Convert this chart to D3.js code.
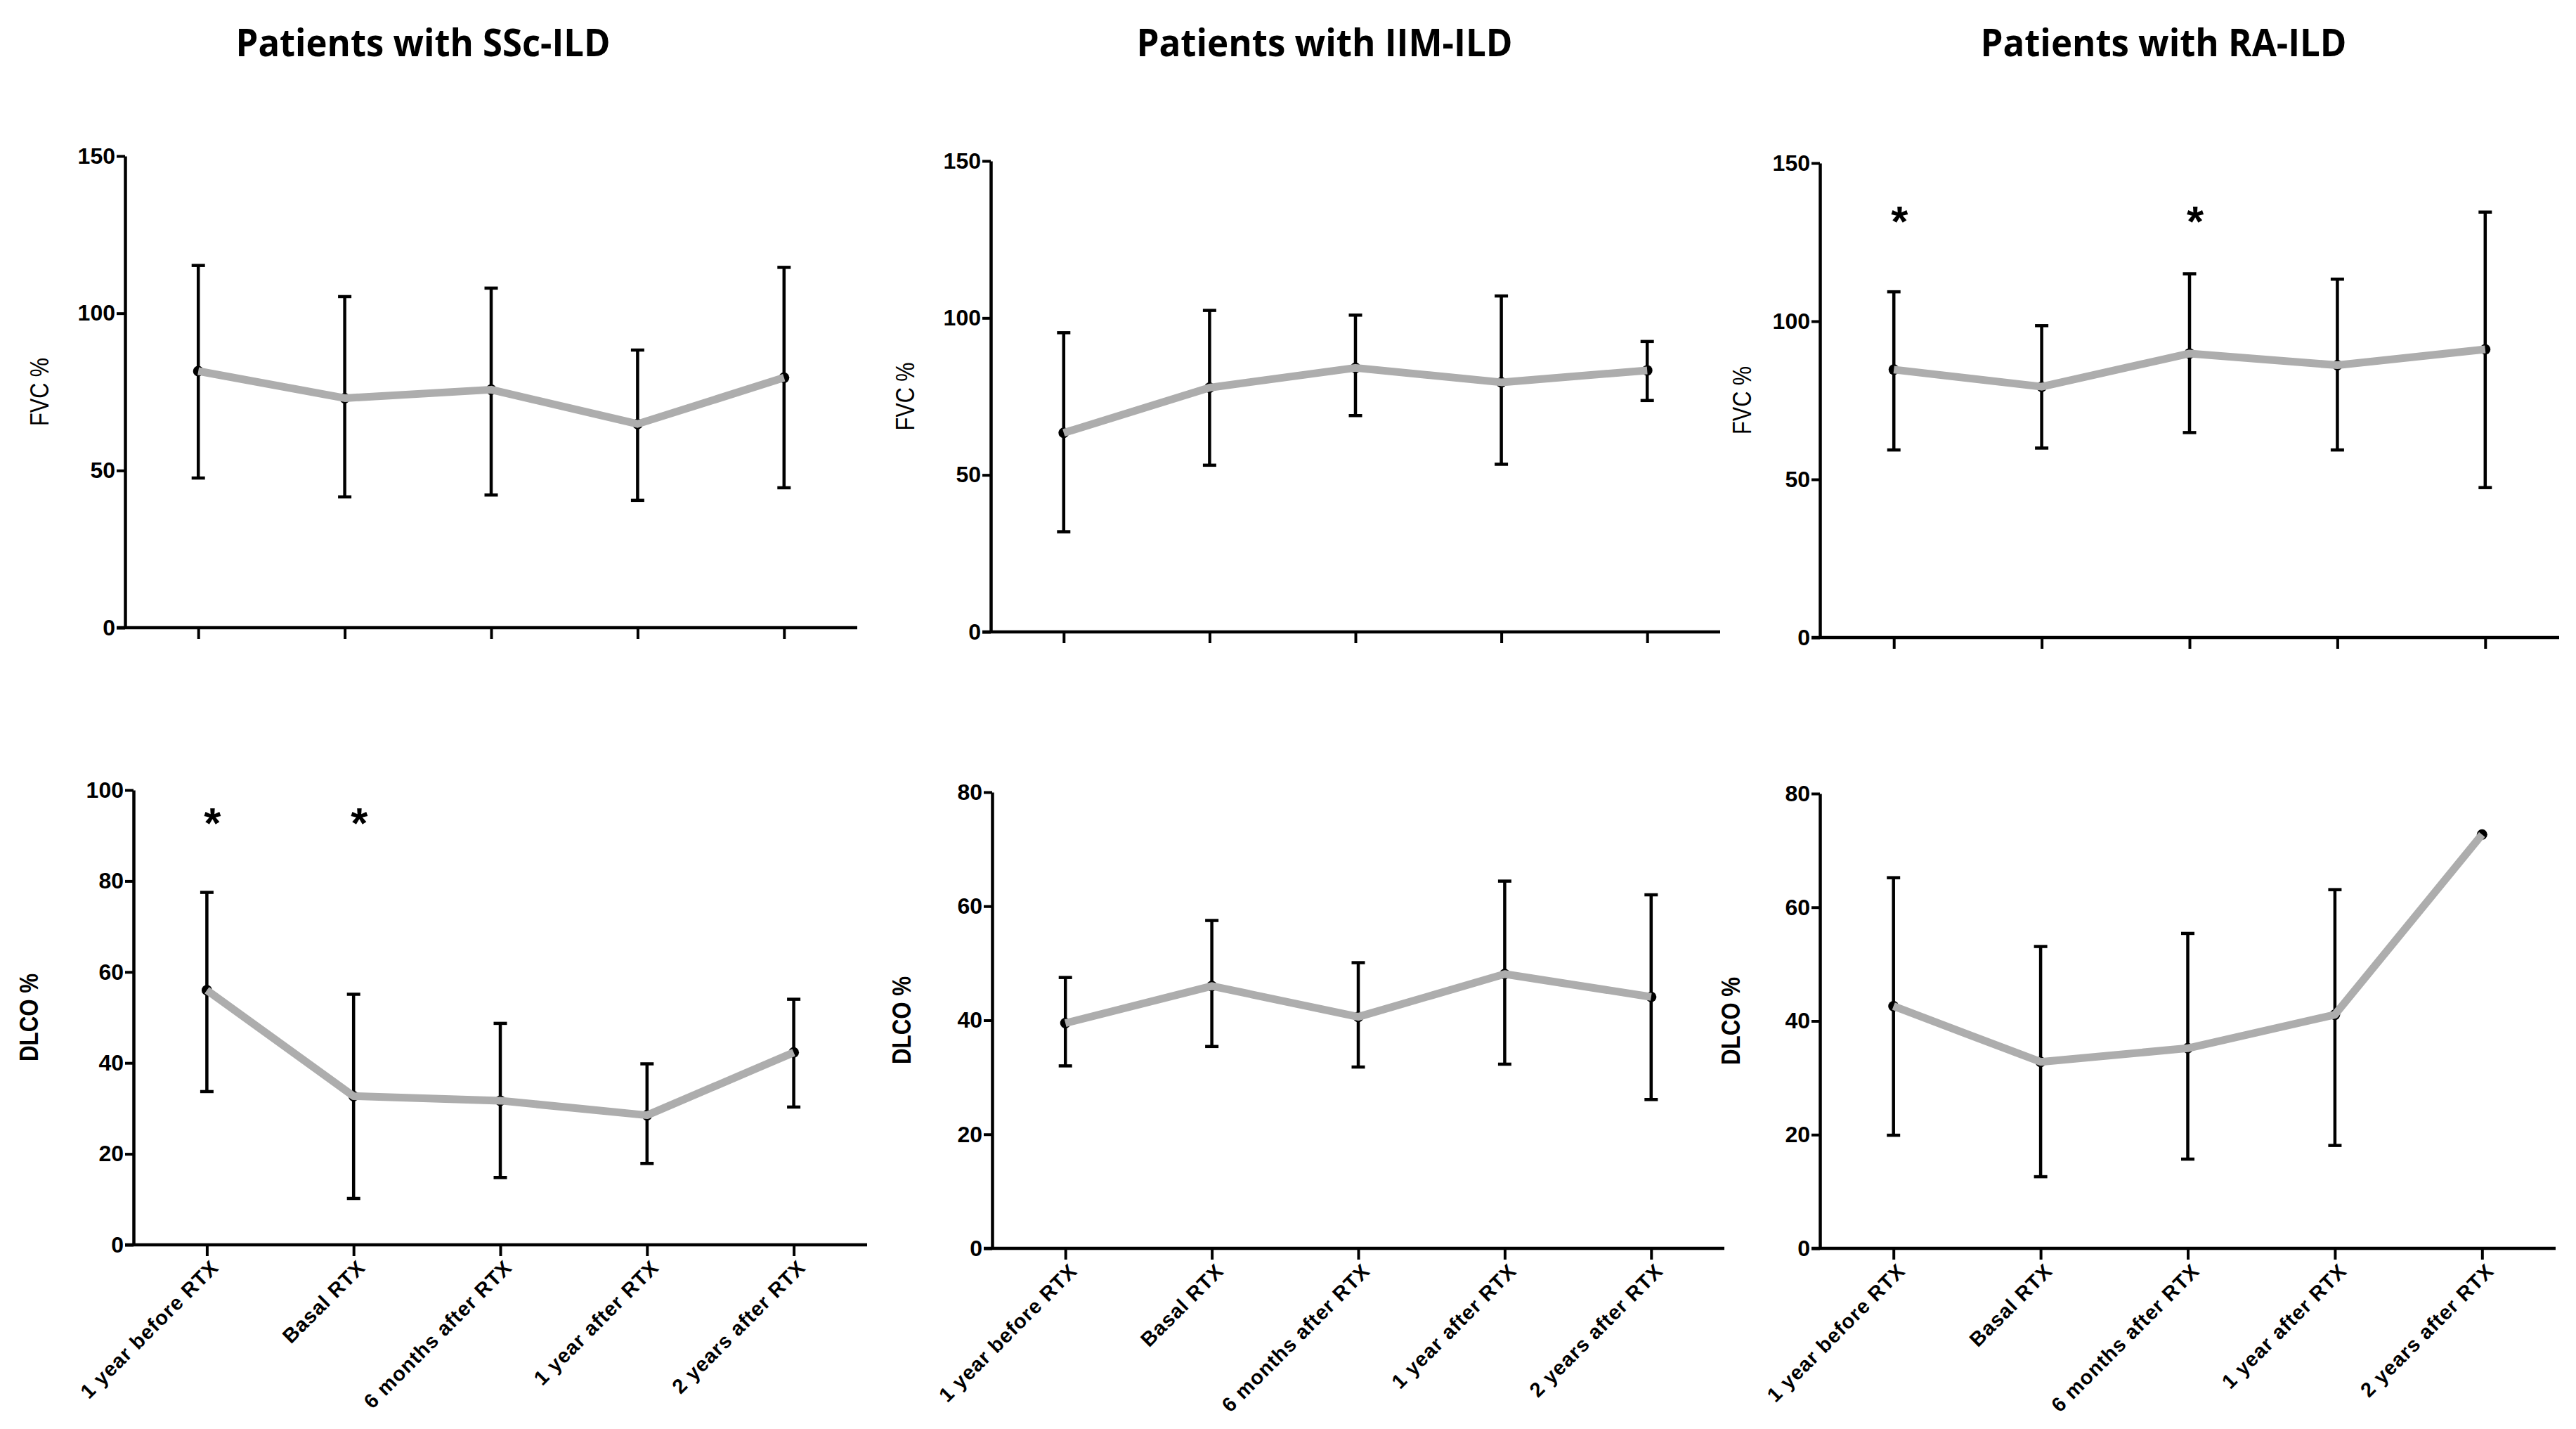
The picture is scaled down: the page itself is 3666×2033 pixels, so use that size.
<!DOCTYPE html>
<html>
<head>
<meta charset="utf-8">
<script src="https://cdn.jsdelivr.net/npm/d3@7"></script>
<style>
  body { margin: 0; background: #fff; }
  svg { display: block; }
</style>
</head>
<body>
<div id="chart"></div>
<script>
// time points shared by every panel
var categories = ['1 year before RTX', 'Basal RTX', '6 months after RTX', '1 year after RTX', '2 years after RTX'];
var groups = ['Patients with SSc-ILD', 'Patients with IIM-ILD', 'Patients with RA-ILD'];

// FVC %, mean with error bar ends
var sscFvcMean = [81.6, 73.0, 75.7, 64.8, 79.5],
  sscFvcHi = [115.2, 105.3, 108.0, 88.3, 114.6],
  sscFvcLo = [47.6, 41.6, 42.2, 40.5, 44.5];
var iimFvcMean = [63.4, 77.8, 84.1, 79.5, 83.3],
  iimFvcHi = [95.3, 102.4, 100.9, 107.0, 92.5],
  iimFvcLo = [31.9, 53.1, 68.9, 53.4, 73.7];
var raFvcMean = [84.7, 79.3, 89.8, 86.1, 91.1],
  raFvcHi = [109.3, 98.6, 115.0, 113.3, 134.5],
  raFvcLo = [59.3, 59.9, 64.8, 59.3, 47.4];

// DLCO %
var sscDlcoMean = [56.0, 32.7, 31.7, 28.5, 42.3],
  sscDlcoHi = [77.5, 55.1, 48.7, 39.8, 54.0],
  sscDlcoLo = [33.7, 10.2, 14.8, 17.9, 30.3];
var iimDlcoMean = [39.5, 46.0, 40.6, 48.1, 44.1],
  iimDlcoHi = [47.5, 57.5, 50.1, 64.4, 62.0],
  iimDlcoLo = [32.0, 35.4, 31.8, 32.3, 26.1];
var raDlcoMean = [42.6, 32.8, 35.2, 41.1, 72.8],
  raDlcoHi = [65.2, 53.1, 55.4, 63.1, null],
  raDlcoLo = [19.9, 12.6, 15.7, 18.1, null];

// significance marks: index of time point and height
var sscDlcoStars = [0, 1], sscDlcoStarAt = 95;
var raFvcStars = [0, 2], raFvcStarAt = 135;

var fvcTicks = [0, 50, 100, 150];
var sscDlcoTicks = [0, 20, 40, 60, 80, 100];
var dlcoTicks = [0, 20, 40, 60, 80];

var width = 3666, height = 2033,
  grey = '#adadad',
  narrow = '"Liberation Sans Narrow", "Arial Narrow", "Liberation Sans", sans-serif';

var panels = [
  {mean: sscFvcMean, hi: sscFvcHi, lo: sscFvcLo, ticks: fvcTicks, label: 'FVC %', bold: false,
    left: 178, right: 1220, top: 222, bottom: 893, lx: 56, stars: [], names: false},
  {mean: iimFvcMean, hi: iimFvcHi, lo: iimFvcLo, ticks: fvcTicks, label: 'FVC %', bold: false,
    left: 1410, right: 2448, top: 229, bottom: 899, lx: 1288, stars: [], names: false},
  {mean: raFvcMean, hi: raFvcHi, lo: raFvcLo, ticks: fvcTicks, label: 'FVC %', bold: false,
    left: 2590, right: 3642, top: 232, bottom: 907, lx: 2479, stars: raFvcStars, starAt: raFvcStarAt, names: false},
  {mean: sscDlcoMean, hi: sscDlcoHi, lo: sscDlcoLo, ticks: sscDlcoTicks, label: 'DLCO %', bold: true,
    left: 190, right: 1234, top: 1124, bottom: 1771, lx: 41, stars: sscDlcoStars, starAt: sscDlcoStarAt, names: true},
  {mean: iimDlcoMean, hi: iimDlcoHi, lo: iimDlcoLo, ticks: dlcoTicks, label: 'DLCO %', bold: true,
    left: 1412, right: 2454, top: 1127, bottom: 1776, lx: 1283, stars: [], names: true},
  {mean: raDlcoMean, hi: raDlcoHi, lo: raDlcoLo, ticks: dlcoTicks, label: 'DLCO %', bold: true,
    left: 2590, right: 3637, top: 1129, bottom: 1776, lx: 2463, stars: [], names: true}
];

var svg = d3.select('#chart').append('svg')
  .attr('width', width).attr('height', height);

// group titles
svg.append('g')
  .selectAll('text')
  .data(groups)
  .enter()
  .append('text')
  .attr('x', function (d, i) { return [602, 1885, 3079][i]; })
  .attr('y', 80)
  .attr('text-anchor', 'middle')
  .attr('textLength', function (d, i) { return [533, 535, 521][i]; })
  .attr('lengthAdjust', 'spacingAndGlyphs')
  .style('font-family', '"Open Sans", sans-serif')
  .style('font-weight', 'bold')
  .style('font-size', '54px')
  .text(function (d) { return d; });

panels.forEach(drawPanel);

function drawPanel (p) {
  var x = d3.scalePoint().domain(categories).range([p.left, p.right]).padding(0.5),
    y = d3.scaleLinear().domain([0, d3.max(p.ticks)]).range([p.bottom, p.top]),
    g = svg.append('g'),
    rows = categories.map(function (c, i) {
      return {c: c, m: p.mean[i], hi: p.hi[i], lo: p.lo[i]};
    });

  var yAxis = g.append('g')
    .attr('transform', 'translate(' + p.left + ',0)')
    .call(d3.axisLeft(y).tickValues(p.ticks).tickSize(12).tickSizeOuter(0).tickPadding(2));

  var xAxis = g.append('g')
    .attr('transform', 'translate(0,' + p.bottom + ')')
    .call(d3.axisBottom(x).tickSize(16).tickSizeOuter(0)
      .tickFormat(p.names ? null : function () { return ''; }));

  [xAxis, yAxis].forEach(function (a) {
    a.select('.domain').style('stroke', '#000').style('stroke-width', 4.5);
    a.selectAll('.tick line').style('stroke', '#000').style('stroke-width', 4);
    a.selectAll('text')
      .style('font-family', narrow)
      .style('font-weight', 'bold')
      .style('fill', '#000');
  });
  // let the x axis run out to the zero tick
  xAxis.select('.domain').attr('d', 'M' + (p.left - 12) + ',0H' + p.right);

  yAxis.selectAll('text').style('font-size', '32px');

  if (p.names) {
    xAxis.selectAll('.tick text')
      .style('font-size', '29px')
      .style('letter-spacing', '1px')
      .attr('text-anchor', 'end')
      .attr('dy', null)
      .attr('y', 0)
      .attr('transform', 'translate(18,34) rotate(-45)');
  }

  // axis title
  g.append('text')
    .attr('transform', 'translate(' + p.lx + ',' + (p.top + p.bottom) / 2 + ') rotate(-90)')
    .attr('text-anchor', 'middle')
    .attr('dy', '0.35em')
    .attr('textLength', p.bold ? 125 : 97)
    .attr('lengthAdjust', 'spacingAndGlyphs')
    .style('font-family', '"Liberation Sans", Arial, sans-serif')
    .style('font-weight', p.bold ? 'bold' : 'normal')
    .style('font-size', p.bold ? '36px' : '37px')
    .text(p.label);

  // error bars
  var bars = g.append('g')
    .style('stroke', '#000')
    .style('stroke-width', 4.5)
    .selectAll('g')
    .data(rows.filter(function (d) { return d.hi != null; }))
    .enter()
    .append('g');

  bars.append('line')
    .attr('x1', function (d) { return x(d.c); })
    .attr('x2', function (d) { return x(d.c); })
    .attr('y1', function (d) { return y(d.hi); })
    .attr('y2', function (d) { return y(d.lo); });

  ['hi', 'lo'].forEach(function (k) {
    bars.append('line')
      .attr('x1', function (d) { return x(d.c) - 9.5; })
      .attr('x2', function (d) { return x(d.c) + 9.5; })
      .attr('y1', function (d) { return y(d[k]); })
      .attr('y2', function (d) { return y(d[k]); });
  });

  // mean points
  g.append('g')
    .selectAll('circle')
    .data(rows)
    .enter()
    .append('circle')
    .attr('cx', function (d) { return x(d.c); })
    .attr('cy', function (d) { return y(d.m); })
    .attr('r', 7.5)
    .style('fill', '#000');

  // mean line
  g.append('path')
    .datum(rows)
    .attr('d', d3.line()
      .x(function (d) { return x(d.c); })
      .y(function (d) { return y(d.m); }))
    .style('fill', 'none')
    .style('stroke', grey)
    .style('stroke-width', 11)
    .style('stroke-linejoin', 'round');

  // significance stars
  g.append('g')
    .selectAll('text')
    .data(p.stars)
    .enter()
    .append('text')
    .attr('x', function (i) { return x(categories[i]) + 8; })
    .attr('y', y(p.starAt || 0) + 36)
    .attr('text-anchor', 'middle')
    .style('font-family', '"Liberation Sans", Arial, sans-serif')
    .style('font-weight', 'bold')
    .style('font-size', '62px')
    .text('*');
}
</script>
</body>
</html>
